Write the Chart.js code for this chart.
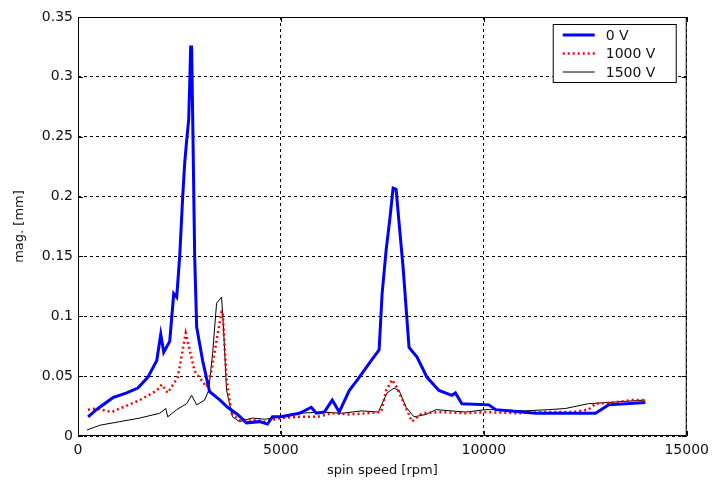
<!DOCTYPE html>
<html>
<head>
<meta charset="utf-8">
<script src="https://cdn.jsdelivr.net/npm/chart.js@4"></script>
<style>
  body { margin: 0; background: #fff; }
  #wrap { width: 715px; height: 480px; }
</style>
</head>
<body>
<div id="wrap"><canvas id="chart" width="715" height="480"></canvas></div>
<script>
// values (rpm, mm)
const xTicks = [0, 5000, 10000, 15000]
const yTicks = [0, 0.05, 0.1, 0.15, 0.2, 0.25, 0.3, 0.35]
const seriesNames = ['0 V', '1000 V', '1500 V']

const rpm0V = [250, 450, 860, 1200, 1474, 1720, 1941, 2039, 2113, 2260, 2359, 2432, 2506, 2580, 2629, 2678, 2727, 2752, 2776, 2800, 2826, 2875, 2924, 3071, 3243, 3500, 3686, 3931, 4152, 4472, 4668, 4791, 5000, 5454, 5749, 5872, 6069, 6265, 6437, 6683, 6929, 7224, 7420, 7494, 7592, 7690, 7764, 7838, 7912, 8010, 8157, 8354, 8600, 8894, 9214, 9300, 9460, 10123, 10295, 11278, 12752, 13071, 13980]
const mag0V = [0.016, 0.022, 0.032, 0.036, 0.040, 0.049, 0.063, 0.085, 0.070, 0.079, 0.119, 0.116, 0.150, 0.200, 0.228, 0.247, 0.264, 0.293, 0.325, 0.325, 0.266, 0.150, 0.091, 0.063, 0.037, 0.030, 0.024, 0.018, 0.011, 0.012, 0.010, 0.016, 0.016, 0.019, 0.024, 0.019, 0.020, 0.030, 0.020, 0.038, 0.049, 0.063, 0.072, 0.119, 0.155, 0.183, 0.207, 0.206, 0.178, 0.141, 0.074, 0.066, 0.049, 0.038, 0.034, 0.036, 0.027, 0.026, 0.022, 0.019, 0.019, 0.026, 0.028]

const rpm1000V = [246, 467, 700, 835, 958, 1250, 1523, 1941, 2064, 2211, 2457, 2580, 2654, 2752, 2875, 3170, 3292, 3415, 3538, 3563, 3661, 3784, 3980, 4300, 4600, 5000, 5454, 5900, 6265, 6700, 7101, 7469, 7592, 7739, 7863, 8035, 8231, 8477, 8894, 9558, 10049, 10800, 11500, 12200, 12580, 12752, 13200, 13636, 13980]
const mag1000V = [0.022, 0.023, 0.021, 0.020, 0.022, 0.026, 0.030, 0.038, 0.043, 0.036, 0.049, 0.072, 0.086, 0.072, 0.054, 0.041, 0.055, 0.080, 0.104, 0.104, 0.047, 0.019, 0.013, 0.014, 0.012, 0.015, 0.016, 0.016, 0.019, 0.018, 0.019, 0.020, 0.038, 0.047, 0.040, 0.027, 0.012, 0.019, 0.020, 0.019, 0.020, 0.019, 0.020, 0.020, 0.022, 0.027, 0.028, 0.030, 0.030]

const rpm1500V = [221, 540, 1032, 1523, 2015, 2162, 2211, 2432, 2678, 2800, 2924, 3120, 3219, 3317, 3415, 3538, 3587, 3661, 3808, 3980, 4300, 4600, 5000, 5454, 6000, 6500, 7000, 7400, 7617, 7788, 7912, 8084, 8280, 8575, 8821, 9558, 10049, 10369, 11000, 11597, 12015, 12580, 13071, 13500, 13980]
const mag1500V = [0.005, 0.009, 0.012, 0.015, 0.019, 0.023, 0.016, 0.022, 0.027, 0.034, 0.026, 0.030, 0.038, 0.069, 0.111, 0.116, 0.089, 0.038, 0.016, 0.012, 0.015, 0.014, 0.016, 0.019, 0.020, 0.019, 0.021, 0.020, 0.036, 0.040, 0.038, 0.024, 0.016, 0.018, 0.022, 0.020, 0.022, 0.022, 0.021, 0.022, 0.023, 0.027, 0.028, 0.029, 0.030]

function toPoints(xs, ys) {
  return xs.map((x, i) => ({ x: x, y: ys[i] }))
}

const FONT = 'DejaVu Sans, Liberation Sans, sans-serif'

// box, inward tick marks and the legend inside the plot (matlab style)
const framePlugin = {
  id: 'frame',
  afterDraw(chart) {
    const { ctx, chartArea: a, scales } = chart
    ctx.save()
    ctx.strokeStyle = '#000'
    ctx.lineWidth = 1
    ctx.setLineDash([])
    ctx.strokeRect(a.left + 0.5, a.top + 0.5, a.right - a.left - 1, a.bottom - a.top - 1)

    ctx.beginPath()
    for (const t of xTicks) {
      const px = Math.round(scales.x.getPixelForValue(t)) + 0.5
      ctx.moveTo(px, a.bottom); ctx.lineTo(px, a.bottom - 5)
      ctx.moveTo(px, a.top); ctx.lineTo(px, a.top + 5)
    }
    for (const t of yTicks) {
      const py = Math.round(scales.y.getPixelForValue(t)) + 0.5
      ctx.moveTo(a.left, py); ctx.lineTo(a.left + 5, py)
      ctx.moveTo(a.right, py); ctx.lineTo(a.right - 5, py)
    }
    ctx.stroke()

    // legend
    const bw = 123, bh = 58
    const bx = a.right - 11 - bw, by = a.top + 7
    ctx.fillStyle = '#fff'
    ctx.fillRect(bx, by, bw, bh)
    ctx.strokeRect(bx + 0.5, by + 0.5, bw, bh)
    ctx.font = '14px ' + FONT
    ctx.textBaseline = 'middle'
    chart.data.datasets.forEach((ds, i) => {
      const ly = by + 11 + i * 18.5
      ctx.beginPath()
      ctx.strokeStyle = ds.borderColor
      ctx.lineWidth = ds.borderWidth
      ctx.setLineDash(ds.borderDash || [])
      ctx.moveTo(bx + 10, ly); ctx.lineTo(bx + 42, ly)
      ctx.stroke()
      ctx.setLineDash([])
      ctx.fillStyle = '#111'
      ctx.fillText(ds.label, bx + 53, ly + 1)
    })
    ctx.restore()
  }
}

new Chart(document.getElementById('chart'), {
  type: 'line',
  data: {
    datasets: [
      {
        label: seriesNames[0],
        data: toPoints(rpm0V, mag0V),
        borderColor: '#0000ff',
        borderWidth: 3,
        pointRadius: 0,
        tension: 0
      },
      {
        label: seriesNames[1],
        data: toPoints(rpm1000V, mag1000V),
        borderColor: '#ff0000',
        borderWidth: 2.5,
        borderDash: [2, 3],
        pointRadius: 0,
        tension: 0
      },
      {
        label: seriesNames[2],
        data: toPoints(rpm1500V, mag1500V),
        borderColor: '#000000',
        borderWidth: 1,
        pointRadius: 0,
        tension: 0
      }
    ]
  },
  options: {
    responsive: false,
    animation: false,
    layout: { padding: { top: 17, right: 26, left: 0, bottom: 0 } },
    plugins: {
      legend: { display: false },
      tooltip: { enabled: false }
    },
    scales: {
      x: {
        type: 'linear',
        min: 0,
        max: 15000,
        afterBuildTicks: (scale) => { scale.ticks = xTicks.map(v => ({ value: v })) },
        afterFit: (scale) => { scale.height = 44 },
        ticks: {
          color: '#111',
          font: { family: FONT, size: 14 },
          padding: 6,
          maxRotation: 0,
          callback: (v) => String(v)
        },
        grid: { color: '#000', lineWidth: 1, drawTicks: false },
        border: { display: false, dash: [3, 3] },
        title: {
          display: true,
          text: 'spin speed [rpm]',
          color: '#111',
          font: { family: FONT, size: 13 },
          padding: { top: 2, bottom: 2 }
        }
      },
      y: {
        min: 0,
        max: 0.35,
        afterBuildTicks: (scale) => { scale.ticks = yTicks.map(v => ({ value: v })) },
        afterFit: (scale) => { scale.width = 78 },
        ticks: {
          color: '#111',
          font: { family: FONT, size: 14 },
          padding: 5,
          callback: (v) => String(Math.round(v * 100) / 100)
        },
        grid: { color: '#000', lineWidth: 1, drawTicks: false },
        border: { display: false, dash: [3, 3] },
        title: {
          display: true,
          text: 'mag. [mm]',
          color: '#111',
          font: { family: FONT, size: 13 },
          padding: { top: 12, bottom: 0 }
        }
      }
    }
  },
  plugins: [framePlugin]
});
</script>
</body>
</html>
